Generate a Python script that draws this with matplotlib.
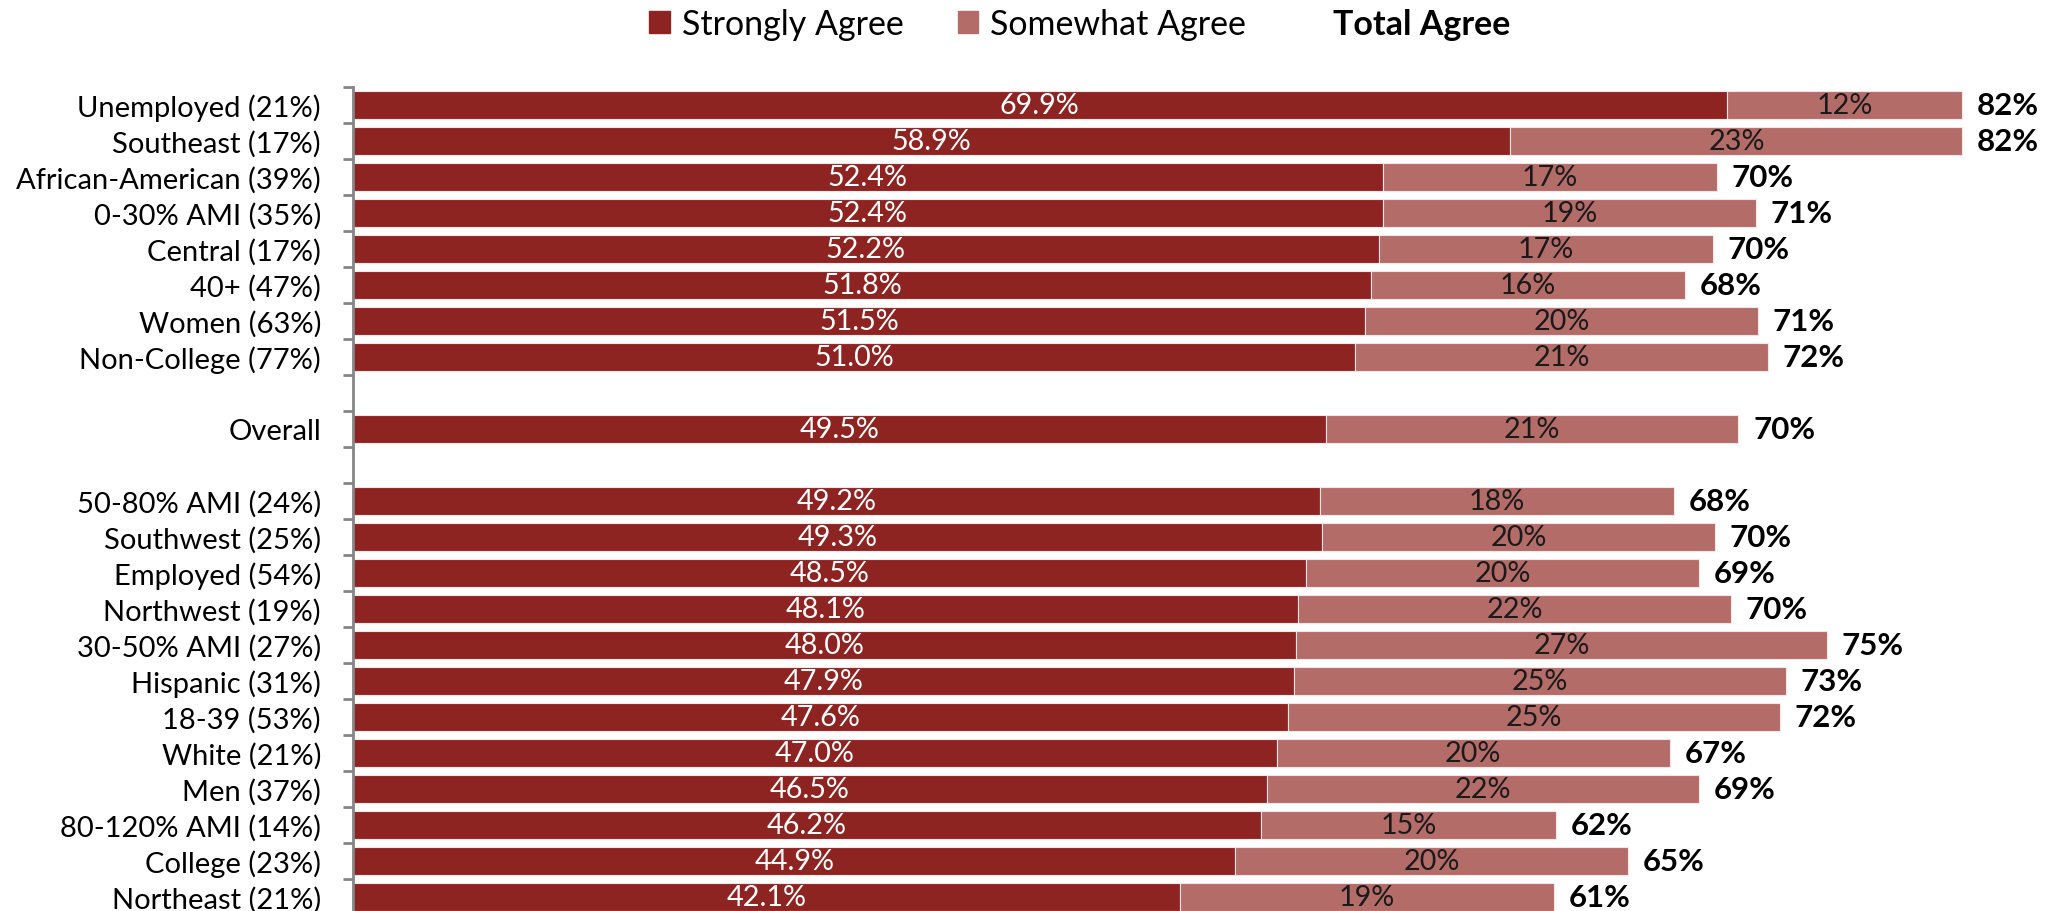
import numpy as np
import matplotlib.pyplot as plt
from matplotlib.patches import Patch
from matplotlib.ticker import FixedLocator

plt.rcParams['font.family'] = ['Lato', 'DejaVu Sans']

# top block
top_labels = ["Unemployed (21%)", "Southeast (17%)", "African-American (39%)",
              "0-30% AMI (35%)", "Central (17%)", "40+ (47%)", "Women (63%)",
              "Non-College (77%)"]
top_strong = [69.9, 58.9, 52.4, 52.4, 52.2, 51.8, 51.5, 51.0]
top_some = [12, 23, 17, 19, 17, 16, 20, 21]
top_total = [82, 82, 70, 71, 70, 68, 71, 72]

# overall
mid_labels = ["Overall"]
mid_strong = [49.5]
mid_some = [21]
mid_total = [70]

# bottom block
bot_labels = ["50-80% AMI (24%)", "Southwest (25%)", "Employed (54%)",
              "Northwest (19%)", "30-50% AMI (27%)", "Hispanic (31%)",
              "18-39 (53%)", "White (21%)", "Men (37%)", "80-120% AMI (14%)",
              "College (23%)", "Northeast (21%)"]
bot_strong = [49.2, 49.3, 48.5, 48.1, 48.0, 47.9, 47.6, 47.0, 46.5, 46.2, 44.9, 42.1]
bot_some = [18, 20, 20, 22, 27, 25, 25, 20, 22, 15, 20, 19]
bot_total = [68, 70, 69, 70, 75, 73, 72, 67, 69, 62, 65, 61]

labels = top_labels + mid_labels + bot_labels
strong = np.array(top_strong + mid_strong + bot_strong)
some = np.array(top_some + mid_some + bot_some)
total = top_total + mid_total + bot_total

# one empty row between groups
ypos = np.concatenate([np.arange(8), [9], np.arange(11, 23)])
nrows = 23

c_strong = '#8E2422'
c_some = '#B46C69'

fig = plt.figure(figsize=(20.57, 9.12), dpi=100)
ax = fig.add_axes([353 / 2057, -4 / 912, 1690 / 2057, 828 / 912])

ax.barh(ypos, strong, height=0.78, color=c_strong, edgecolor='#f4e6e6', linewidth=0.8)
ax.barh(ypos, some, left=strong, height=0.78, color=c_some, edgecolor='#f4e6e6', linewidth=0.8)

fs = 20.7
for y, s, w, t in zip(ypos, strong, some, total):
    ax.text(s / 2, y, f'{s:.1f}%', ha='center', va='center', color='white', fontsize=fs)
    ax.text(s + w / 2, y, f'{w}%', ha='center', va='center', color='#1a1a1a', fontsize=fs)
    ax.text(s + w + 0.75, y, f'{t}%', ha='left', va='center', color='black',
            fontsize=22.5, fontweight='bold')

ax.set_xlim(0, 86)
ax.set_ylim(nrows - 0.5, -0.5)
ax.set_yticks(ypos)
ax.set_yticklabels(labels, fontsize=21)
ax.yaxis.set_minor_locator(FixedLocator(np.arange(-0.5, nrows, 1)))
ax.tick_params(axis='y', which='major', length=0, pad=23)
ax.tick_params(axis='y', which='minor', length=7, width=2, color='#858585')
ax.set_xticks([])
for side in ['top', 'right', 'bottom']:
    ax.spines[side].set_visible(False)
ax.spines['left'].set_color('#858585')
ax.spines['left'].set_linewidth(2)

handles = [Patch(color=c_strong), Patch(color=c_some), Patch(color='none')]
leg = fig.legend(handles, ['Strongly Agree', 'Somewhat Agree', 'Total Agree'],
                 loc='center', bbox_to_anchor=(0.525, 1 - 25 / 912), ncol=3,
                 frameon=False, fontsize=24.5, handlelength=0.6, handleheight=0.6,
                 handletextpad=0.35, columnspacing=1.6)
leg.get_texts()[2].set_fontweight('bold')

fig.savefig('out.png', dpi=100)
